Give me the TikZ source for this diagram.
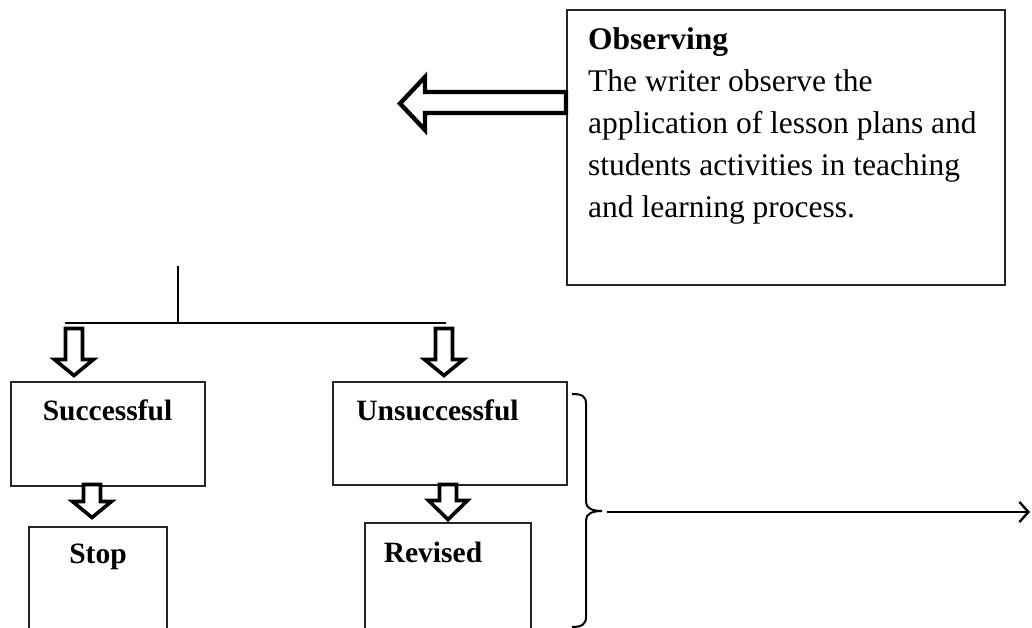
\documentclass[tikz,border=0pt]{standalone}
\usepackage{fontspec}
\setmainfont{Liberation Serif}
\usetikzlibrary{arrows.meta}
\begin{document}
\begin{tikzpicture}[x=1pt,y=-1pt,
  box/.style={draw=black!85, line width=1.4pt, inner sep=0pt, outer sep=0pt, anchor=north west},
  lbl/.style={inner sep=0pt, anchor=base, font=\fontsize{29.5}{35}\selectfont\bfseries},
  txt/.style={inner sep=0pt, anchor=base west, font=\fontsize{31.5}{42}\selectfont},
  blockarrow/.style={draw=black, line width=3.6pt, fill=white, line join=miter, miter limit=10},
  conn/.style={draw=black, line width=2.4pt},
  pics/downblk/.style 2 args={code={
    \draw[blockarrow] (-8.5,0) -- (-8.5,#1) -- (-19.5,#1) -- (0,#1+#2) -- (19.5,#1) -- (8.5,#1) -- (8.5,0) -- cycle;}}
]
\useasboundingbox (0,0) rectangle (1032,628);
\clip (0,0) rectangle (1032,628);

% Observing box
\node[box, minimum width=438, minimum height=275] (obs) at (567,10) {};
\node[txt, font=\fontsize{31.5}{42}\selectfont\bfseries] (obs1) at (588,50) {Observing};
\node[txt] (obs2) at (588,92) {The writer observe the};
\node[txt] (obs3) at (588,134) {application of lesson plans and};
\node[txt] (obs4) at (588,176) {students activities in teaching};
\node[txt] (obs5) at (588,218) {and learning process.};

% big left block arrow
\draw[blockarrow, line width=4.4pt] (566,92) -- (425,92) -- (425,77) -- (400,103.5) -- (425,130) -- (425,113) -- (566,113) -- cycle;

% split lines
\coordinate (stem) at (178,266);
\coordinate (split) at (178,323);
\coordinate (bl) at (65,323);
\coordinate (br) at (446,323);
\draw[conn] (stem) -- (split);
\draw[conn] (bl) -- (br);

% boxes
\node[box, minimum width=194, minimum height=104] (succ) at (11,382) {};
\node[lbl] (succt) at (107.5,420) {Successful};
\node[box, minimum width=234, minimum height=103] (unsucc) at (333,382) {};
\node[lbl] (unsucct) at (437.5,420) {Unsuccessful};
\node[box, minimum width=138, minimum height=140] (stop) at (29,527) {};
\node[lbl] (stopt) at (98,563) {Stop};
\node[box, minimum width=166, minimum height=140] (rev) at (365,523) {};
\node[lbl] (revt) at (433,562) {Revised};

% down block arrows
\pic at (74,328.5) {downblk={31}{16}};
\pic at (444,328.5) {downblk={31}{16}};
\pic at (92,484.5) {downblk={17}{16}};
\pic at (448,484.5) {downblk={16}{19}};

% brace
\draw[line width=2pt] (572,394) .. controls (582,394) and (586,396) .. (586,404) -- (586,502)
  .. controls (586,508) and (592,511) .. (602,511)
  .. controls (592,511) and (586,514) .. (586,520) -- (586,617)
  .. controls (586,624) and (582,627) .. (572,627);

% right arrow
\coordinate (brtip) at (602,512);
\coordinate (rend) at (1030,512);
\draw[conn, -{Straight Barb[length=9pt,width=20pt]}, shorten <=5pt] (brtip) -- (rend);
\end{tikzpicture}
\end{document}
